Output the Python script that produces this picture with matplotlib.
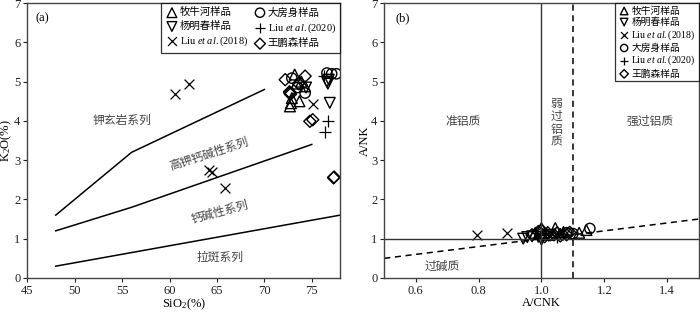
import matplotlib
matplotlib.use("Agg")
import matplotlib.pyplot as plt

plt.rcParams['font.family'] = ['Liberation Serif', 'Noto Sans CJK SC']
plt.rcParams['mathtext.fontset'] = 'custom'
plt.rcParams['mathtext.rm'] = 'Liberation Serif'
plt.rcParams['mathtext.it'] = 'Liberation Serif:italic'

# ---- panel (a) data: SiO2 vs K2O ----
mnh_si = [73.2, 72.7, 73.7, 72.9, 74.3, 73.4, 73.9, 72.8]
mnh_k = [5.18, 4.37, 4.50, 4.58, 4.88, 4.95, 5.0, 4.45]
ymc_si = [76.6, 76.7, 76.8, 76.9, 74.4]
ymc_k = [5.0, 4.95, 5.05, 4.46, 4.85]
l18_si = [60.6, 62.1, 64.2, 64.5, 65.8, 75.1]
l18_k = [4.69, 4.94, 2.74, 2.69, 2.29, 4.44]
dfs_si = [76.6, 77.1, 77.6, 72.9, 74.3, 73.5]
dfs_k = [5.22, 5.2, 5.2, 5.09, 4.71, 4.85]
l20_si = [76.7, 76.4, 76.3]
l20_k = [3.99, 3.73, 5.15]
wps_si = [72.2, 74.3, 72.7, 72.75, 72.65, 74.8, 75.1, 77.3, 77.35, 73.6]
wps_k = [5.05, 5.14, 4.71, 4.68, 4.74, 3.99, 4.03, 2.55, 2.57, 4.95]

# boundary lines (Peccerillo & Taylor)
b1_x, b1_y = [48, 56, 70], [1.6, 3.2, 4.8]
b2_x, b2_y = [48, 56, 75], [1.2, 1.8, 3.4]
b3_x, b3_y = [48, 78], [0.3, 1.6]

# ---- panel (b) data: A/CNK vs A/NK ----
mnh_acnk = [1.0, 1.044, 1.07, 1.143, 0.98, 1.02, 1.06, 1.12]
mnh_anK = [1.27, 1.27, 1.17, 1.22, 1.15, 1.1, 1.12, 1.15]
ymc_acnk = [0.942, 0.955, 0.97, 0.99, 1.0]
ymc_anK = [1.0, 1.04, 1.06, 1.05, 0.98]
l18_acnk = [0.794, 0.889, 0.99, 1.01, 1.03, 1.05]
l18_anK = [1.1, 1.15, 1.12, 1.08, 1.15, 1.1]
dfs_acnk = [1.1, 1.154, 1.08, 1.03, 1.0]
dfs_anK = [1.13, 1.26, 1.15, 1.1, 1.12]
l20_acnk = [1.02, 1.05, 1.07]
l20_anK = [1.1, 1.05, 1.12]
wps_acnk = [0.97, 0.99, 1.01, 1.02, 1.04, 1.05, 1.06, 1.08, 1.09, 1.0]
wps_anK = [1.1, 1.18, 1.05, 1.15, 1.1, 1.15, 1.07, 1.1, 1.16, 1.22]

labels = ['牧牛河样品', '杨明春样品', r'Liu $\it{et\ al.}$(2018)',
          '大房身样品', r'Liu $\it{et\ al.}$(2020)', '王鹏森样品']
markers = ['^', 'v', 'x', 'o', '+', 'D']
sizes = [60, 60, 50, 55, 70, 38]

fig = plt.figure(figsize=(7, 3.13), dpi=100)
axa = fig.add_axes([0.039, 0.112, 0.447, 0.878])
axb = fig.add_axes([0.549, 0.112, 0.449, 0.878])

tc = '#444444'
for ax in (axa, axb):
    for s in ax.spines.values():
        s.set_color('#444444')
        s.set_linewidth(1.0)
    ax.tick_params(labelsize=9, colors='#222222', length=3, width=0.8, pad=2)
    ax.set_ylim(0, 7)

# panel a
for bx, by in ((b1_x, b1_y), (b2_x, b2_y), (b3_x, b3_y)):
    axa.plot(bx, by, color='black', lw=1.1)
data_a = [(mnh_si, mnh_k), (ymc_si, ymc_k), (l18_si, l18_k),
          (dfs_si, dfs_k), (l20_si, l20_k), (wps_si, wps_k)]
for (xs, ys), m, lab, sz in zip(data_a, markers, labels, sizes):
    if m in ('x', '+'):
        axa.scatter(xs, ys, marker=m, s=sz, color='black', linewidths=0.9, label=lab)
    else:
        axa.scatter(xs, ys, marker=m, s=sz, facecolors='none', edgecolors='black',
                    linewidths=1.0, label=lab)
axa.set_xlim(45, 78)
axa.set_xticks([45, 50, 55, 60, 65, 70, 75])
axa.set_yticks(range(0, 8))
axa.set_xlabel('SiO$_2$(%)', fontsize=9, labelpad=0)
axa.set_ylabel('K$_2$O(%)', fontsize=9, labelpad=0)
axa.text(0.025, 0.965, '(a)', transform=axa.transAxes, fontsize=9, va='top')
axa.text(55.0, 4.0, '钾玄岩系列', fontsize=8.5, color=tc, ha='center', va='center')
axa.text(64.2, 3.16, '高钾钙碱性系列', fontsize=8.5, color=tc, ha='center', va='center', rotation=18)
axa.text(65.3, 1.66, '钙碱性系列', fontsize=8.5, color=tc, ha='center', va='center', rotation=15)
axa.text(65.3, 0.51, '拉斑系列', fontsize=8.5, color=tc, ha='center', va='center')
lga = axa.legend(loc='upper right', ncol=2, fontsize=7.5, frameon=True, fancybox=False,
                 edgecolor='black', borderaxespad=0.0, columnspacing=0.5,
                 handletextpad=0.1, labelspacing=0.35, borderpad=0.4, markerscale=0.9,
                 handlelength=1.3)
lga.get_frame().set_linewidth(0.9)

# panel b
axb.axhline(1.0, color='#333333', lw=1.0)
axb.axvline(1.0, color='#333333', lw=1.0)
axb.axvline(1.1, color='black', lw=1.1, ls=(0, (4, 3)))
axb.plot([0.5, 1.5], [0.5, 1.5], color='black', lw=1.1, ls=(0, (4, 3)))
data_b = [(mnh_acnk, mnh_anK), (ymc_acnk, ymc_anK), (l18_acnk, l18_anK),
          (dfs_acnk, dfs_anK), (l20_acnk, l20_anK), (wps_acnk, wps_anK)]
for (xs, ys), m, lab, sz in zip(data_b, markers, labels, sizes):
    if m in ('x', '+'):
        axb.scatter(xs, ys, marker=m, s=sz, color='black', linewidths=0.9, label=lab)
    else:
        axb.scatter(xs, ys, marker=m, s=sz, facecolors='none', edgecolors='black',
                    linewidths=1.0, label=lab)
axb.set_xlim(0.5, 1.5)
axb.set_xticks([0.6, 0.8, 1.0, 1.2, 1.4])
axb.set_yticks(range(0, 8))
axb.set_xlabel('A/CNK', fontsize=9, labelpad=0)
axb.set_ylabel('A/NK', fontsize=9, labelpad=0)
axb.text(0.035, 0.965, '(b)', transform=axb.transAxes, fontsize=9, va='top')
axb.text(0.751, 3.97, '准铝质', fontsize=8.5, color=tc, ha='center', va='center')
axb.text(1.048, 3.94, '弱\n过\n铝\n质', fontsize=8.5, color=tc, ha='center', va='center',
         linespacing=1.1)
axb.text(1.345, 3.97, '强过铝质', fontsize=8.5, color=tc, ha='center', va='center')
axb.text(0.683, 0.28, '过碱质', fontsize=8.5, color=tc, ha='center', va='center')
lgb = axb.legend(loc='upper right', ncol=1, fontsize=7, frameon=True, fancybox=False,
                 edgecolor='black', borderaxespad=0.0, handletextpad=0.15,
                 labelspacing=0.15, borderpad=0.3, markerscale=0.7, handlelength=1.2)
lgb.get_frame().set_linewidth(0.9)

fig.savefig('out.png', dpi=100)
